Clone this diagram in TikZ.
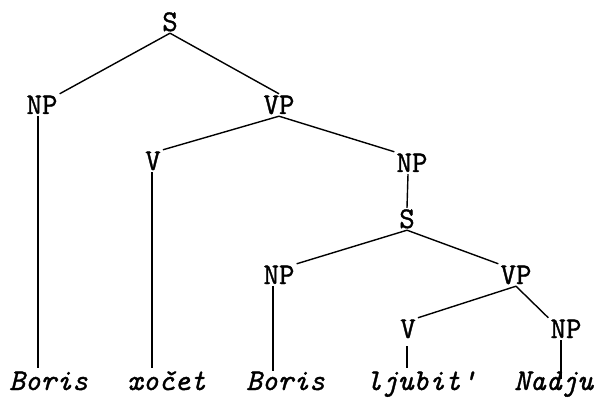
\documentclass[tikz,border=0pt]{standalone}
\usepackage{fontspec}
\newfontfamily\twfont{Latin Modern Mono}[FakeBold=1.2]
\begin{document}
\begin{tikzpicture}[x=1pt,y=-1pt,
  lab/.style={font=\fontsize{30}{30}\selectfont\twfont, inner sep=2pt, text height=18pt, text depth=0pt},
  word/.style={font=\fontsize{30}{30}\selectfont\twfont\itshape, inner sep=0pt, anchor=base west},
  edge/.style={line width=1.4pt}]
\useasboundingbox (0,0) rectangle (600,398);
% labels
\node[lab] (s1)  at (170,22)  {S};
\node[lab] (np1) at (42,105)  {NP};
\node[lab] (vp1) at (279,105) {VP};
\node[lab] (v1)  at (153,161) {V};
\node[lab] (np2) at (412,163) {NP};
\node[lab] (s2)  at (407,219) {S};
\node[lab] (np3) at (279,275) {NP};
\node[lab] (vp2) at (516,275) {VP};
\node[lab] (v2)  at (408,329) {V};
\node[lab] (np4) at (566,329) {NP};
% words
\node[word] (w1) at (9,390)   {Boris};
\node[word] (w2) at (127,390) {xočet};
\node[word] (w3) at (246,390) {Boris};
\node[word] (w4) at (366,390) {ljubit'};
\node[word] (w5) at (514,390) {Nadju};
% branches
\draw[edge] (s1.south) -- (np1.north east);
\draw[edge] (s1.south) -- (vp1.north);
\draw[edge] (vp1.south) -- (v1.north east);
\draw[edge] (vp1.south) -- (np2.north west);
\draw[edge] ([xshift=-4pt]np2.south) -- (s2.north);
\draw[edge] (s2.south) -- (np3.north east);
\draw[edge] (s2.south) -- (vp2.north west);
\draw[edge] (vp2.south) -- (v2.north east);
\draw[edge] (vp2.south) -- (np4.north west);
% terminal lines
\draw[edge] ([xshift=-4pt]np1.south) -- ([xshift=-4pt,yshift=3pt]np1.south |- w1.north);
\draw[edge] ([xshift=-1pt]v1.south) -- ([xshift=-1pt,yshift=3pt]v1.south |- w2.north);
\draw[edge] ([xshift=-6pt]np3.south) -- ([xshift=-6pt]np3.south |- w3.north);
\draw[edge] ([xshift=-1pt,yshift=-6pt]v2.south) -- ([xshift=-1pt,yshift=3pt]v2.south |- w4.north);
\draw[edge] ([xshift=-5pt]np4.south) -- ([xshift=-5pt,yshift=-8pt]np4.south |- w5.north);
\end{tikzpicture}
\end{document}
